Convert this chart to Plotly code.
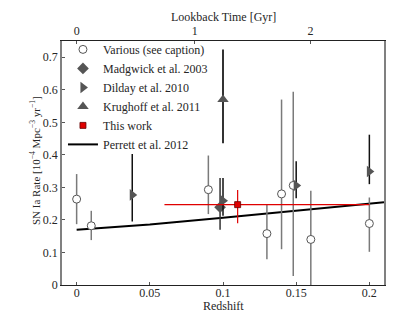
import plotly.graph_objects as go

# ---- data ----
various_z = [0.0, 0.01, 0.09, 0.13, 0.14, 0.148, 0.16, 0.2]
various_rate = [0.264, 0.182, 0.293, 0.158, 0.280, 0.306, 0.140, 0.189]
various_up = [0.077, 0.046, 0.105, 0.089, 0.290, 0.288, 0.150, 0.080]
various_down = [0.077, 0.044, 0.075, 0.079, 0.170, 0.278, 0.140, 0.087]

madgwick_z = [0.098]
madgwick_rate = [0.239]
madgwick_up = [0.090]
madgwick_down = [0.069]

dilday_z = [0.038, 0.10, 0.15, 0.2]
dilday_rate = [0.277, 0.259, 0.306, 0.349]
dilday_up = [0.126, 0.070, 0.074, 0.113]
dilday_down = [0.082, 0.046, 0.039, 0.039]

krughoff_z = [0.10]
krughoff_rate = [0.570]
krughoff_up = [0.154]
krughoff_down = [0.134]

this_z = [0.11]
this_rate = [0.247]
this_up = [0.045]
this_down = [0.057]
this_zplus = [0.09]
this_zminus = [0.05]

perrett_z = [0.0, 0.05, 0.10, 0.15, 0.21]
perrett_rate = [0.170, 0.186, 0.207, 0.229, 0.254]

lookback_gyr = ["0", "1", "2"]
lookback_z = [0.0, 0.0807, 0.1598]

x_ticks = [0, 0.05, 0.1, 0.15, 0.2]
x_ticktext = ["0", "0.05", "0.1", "0.15", "0.2"]
y_ticks = [0, 0.1, 0.2, 0.3, 0.4, 0.5, 0.6, 0.7]
y_ticktext = ["0", "0.1", "0.2", "0.3", "0.4", "0.5", "0.6", "0.7"]

FONT = "Liberation Serif, Times New Roman, Times, serif"
TXT = "#262626"

fig = go.Figure()

fig.add_trace(go.Scatter(
    x=perrett_z, y=perrett_rate, mode="lines", name="Perrett et al. 2012",
    line=dict(color="black", width=2), legendrank=6))

fig.add_trace(go.Scatter(
    x=various_z, y=various_rate, mode="markers", name="Various (see caption)",
    marker=dict(symbol="circle", size=8, color="white",
                line=dict(color="#555555", width=1)),
    error_y=dict(type="data", array=various_up, arrayminus=various_down,
                 color="#7a7a7a", thickness=1.5, width=0),
    legendrank=1))

fig.add_trace(go.Scatter(
    x=madgwick_z, y=madgwick_rate, mode="markers", name="Madgwick et al. 2003",
    marker=dict(symbol="diamond", size=9, color="#555555",
                line=dict(color="#555555", width=0)),
    error_y=dict(type="data", array=madgwick_up, arrayminus=madgwick_down,
                 color="#333333", thickness=1.5, width=0),
    legendrank=2))

fig.add_trace(go.Scatter(
    x=dilday_z, y=dilday_rate, mode="markers", name="Dilday et al. 2010",
    marker=dict(symbol="triangle-right", size=10, color="#555555",
                line=dict(color="#555555", width=0)),
    error_y=dict(type="data", array=dilday_up, arrayminus=dilday_down,
                 color="#111111", thickness=1.5, width=0),
    legendrank=3))

fig.add_trace(go.Scatter(
    x=krughoff_z, y=krughoff_rate, mode="markers", name="Krughoff et al. 2011",
    marker=dict(symbol="triangle-up", size=10, color="#555555",
                line=dict(color="#555555", width=0)),
    error_y=dict(type="data", array=krughoff_up, arrayminus=krughoff_down,
                 color="#333333", thickness=2, width=0),
    legendrank=4))

fig.add_trace(go.Scatter(
    x=this_z, y=this_rate, mode="markers", name="This work",
    marker=dict(symbol="square", size=6, color="#e00000",
                line=dict(color="#660000", width=0.8)),
    error_y=dict(type="data", array=this_up, arrayminus=this_down,
                 color="#e00000", thickness=1.2, width=0),
    error_x=dict(type="data", array=this_zplus, arrayminus=this_zminus,
                 color="#e00000", thickness=1.2, width=0),
    legendrank=5))

# invisible trace to carry the top (lookback time) axis
fig.add_trace(go.Scatter(
    x=lookback_z, y=[0.0] * len(lookback_z), xaxis="x2", mode="markers",
    marker=dict(opacity=0), showlegend=False, hoverinfo="skip"))

fig.update_layout(
    width=415, height=312,
    margin=dict(l=54, r=39, t=33, b=35, autoexpand=False),
    plot_bgcolor="white", paper_bgcolor="white",
    font=dict(family=FONT, size=11, color=TXT),
    showlegend=True,
    legend=dict(x=0.003, y=1.025, xanchor="left", yanchor="top",
                bgcolor="rgba(0,0,0,0)", borderwidth=0,
                font=dict(family=FONT, size=12, color=TXT),
                itemwidth=30, tracegroupgap=0),
    xaxis=dict(range=[-0.01, 0.21], tickvals=x_ticks, ticktext=x_ticktext,
               showgrid=False, zeroline=False, showline=True, automargin=False,
               linecolor="#222222", linewidth=1.2,
               ticks="inside", ticklen=3, tickcolor="#555555",
               ticklabelstandoff=-4,
               tickfont=dict(family=FONT, size=12, color=TXT)),
    xaxis2=dict(overlaying="x", side="top", range=[-0.01, 0.21],
                tickvals=lookback_z, ticktext=lookback_gyr, automargin=False,
                showgrid=False, zeroline=False, showline=True,
                linecolor="#222222", linewidth=1.2,
                ticks="inside", ticklen=3, tickcolor="#555555",
                tickfont=dict(family=FONT, size=12, color=TXT)),
    yaxis=dict(range=[0, 0.75], tickvals=y_ticks, ticktext=y_ticktext,
               showgrid=False, zeroline=False, showline=True, mirror=True,
               automargin=False,
               linecolor="#808080", linewidth=1.5,
               ticks="inside", ticklen=3, tickcolor="#555555",
               tickfont=dict(family=FONT, size=12, color=TXT)),
    annotations=[
        dict(text="Redshift", xref="paper", yref="paper", x=0.5, y=0,
             xanchor="center", yanchor="top", yshift=-12, showarrow=False,
             font=dict(family=FONT, size=12, color=TXT)),
        dict(text="Lookback Time [Gyr]", xref="paper", yref="paper", x=0.5, y=1,
             xanchor="center", yanchor="bottom", yshift=15, showarrow=False,
             font=dict(family=FONT, size=12, color=TXT)),
        dict(text="SN Ia Rate [10<sup>−4</sup> Mpc<sup>−3</sup> yr<sup>−1</sup>]",
             xref="paper", yref="paper", x=0, y=0.5, textangle=-90,
             xanchor="center", yanchor="middle", xshift=-27, yshift=2,
             showarrow=False, font=dict(family=FONT, size=11, color=TXT)),
    ],
)

fig.write_html("out.html")
